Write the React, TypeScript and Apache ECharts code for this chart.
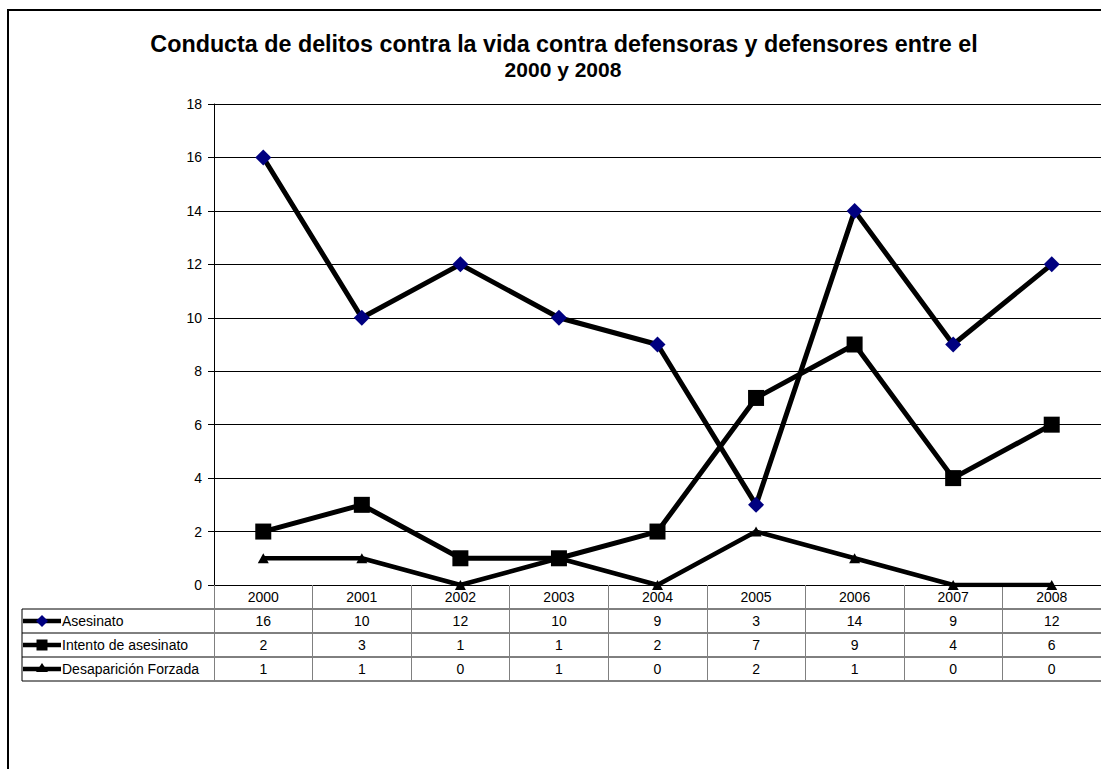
import React, { useEffect, useRef } from "react";
import * as echarts from "echarts";

const categories = ["2000", "2001", "2002", "2003", "2004", "2005", "2006", "2007", "2008"];
const asesinato = [16, 10, 12, 10, 9, 3, 14, 9, 12];
const intento = [2, 3, 1, 1, 2, 7, 9, 4, 6];
const desaparicion = [1, 1, 0, 1, 0, 2, 1, 0, 0];
const seriesNames = ["Asesinato", "Intento de asesinato", "Desaparición Forzada"];
const titleLines = [
  "Conducta de delitos contra la vida contra defensoras y defensores entre el",
  "2000 y 2008",
];
const yMin = 0;
const yMax = 18;
const yInterval = 2;

const FONT = "'Liberation Sans', Arial, sans-serif";

export default function App() {
  const ref = useRef<HTMLDivElement>(null);
  useEffect(() => {
    if (!ref.current) return;
    const chart = echarts.init(ref.current, undefined, { renderer: "svg" });
    const gridLeft = 214;
    const gridTop = 104;
    const gridHeight = 481;
    const gridWidth = 896;
    const rowH = 24;
    const option: any = {
      animation: false,
      backgroundColor: "#fff",
      grid: { left: gridLeft, top: gridTop, width: gridWidth, height: gridHeight, containLabel: false },
      xAxis: {
        type: "category",
        data: categories,
        boundaryGap: true,
        axisLine: { show: true, lineStyle: { color: "#000", width: 1 } },
        axisTick: { show: true, length: rowH * 4, lineStyle: { color: "#808080", width: 1 } },
        axisLabel: { margin: 5, fontSize: 14, color: "#000", fontFamily: FONT },
        splitLine: { show: false },
      },
      yAxis: {
        type: "value",
        min: yMin,
        max: yMax,
        interval: yInterval,
        axisLine: { show: true, lineStyle: { color: "#000", width: 1 } },
        axisTick: { show: true, length: 6, lineStyle: { color: "#000" } },
        axisLabel: { margin: 12, fontSize: 14, color: "#000", fontFamily: FONT },
        splitLine: { show: true, lineStyle: { color: "#000", width: 1 } },
      },
      series: [
        {
          name: seriesNames[0],
          type: "line",
          data: asesinato,
          symbol: "diamond",
          symbolSize: 16,
          lineStyle: { color: "#000", width: 5 },
          itemStyle: { color: "#000080", borderWidth: 0 },
          z: 3,
        },
        {
          name: seriesNames[1],
          type: "line",
          data: intento,
          symbol: "rect",
          symbolSize: 16,
          lineStyle: { color: "#000", width: 5 },
          itemStyle: { color: "#000", borderWidth: 0 },
          z: 2,
        },
        {
          name: seriesNames[2],
          type: "line",
          data: desaparicion,
          symbol: "triangle",
          symbolSize: [11, 10],
          lineStyle: { color: "#000", width: 4.5 },
          itemStyle: { color: "#000", borderWidth: 0 },
          z: 2,
        },
      ],
    };
    chart.setOption(option);

    const axisY = gridTop + gridHeight;
    const tableRight = gridLeft + gridWidth;
    const tableLeft = 22;
    const graphics: any[] = [];
    graphics.push({
      type: "rect",
      shape: { x: 8, y: 10, width: 1102, height: 780 },
      style: { fill: "none", stroke: "#000", lineWidth: 2 },
      z: 100,
    });
    graphics.push({
      type: "text",
      x: 564,
      y: 44,
      style: { text: titleLines[0], font: `bold 23.3px ${FONT}`, fill: "#000", textAlign: "center", textVerticalAlign: "middle" },
    });
    graphics.push({
      type: "text",
      x: 563,
      y: 69,
      style: { text: titleLines[1], font: `bold 21px ${FONT}`, fill: "#000", textAlign: "center", textVerticalAlign: "middle" },
    });
    for (let r = 1; r <= 4; r++) {
      const y = axisY + r * rowH;
      graphics.push({
        type: "line",
        shape: { x1: tableLeft, y1: y, x2: tableRight, y2: y },
        style: { stroke: "#000", lineWidth: 1 },
      });
    }
    graphics.push({
      type: "line",
      shape: { x1: tableLeft, y1: axisY + rowH, x2: tableLeft, y2: axisY + rowH * 4 },
      style: { stroke: "#000", lineWidth: 1 },
    });
    const rows = [asesinato, intento, desaparicion];
    rows.forEach((vals, ri) => {
      const cy = axisY + rowH * (ri + 1) + rowH / 2;
      vals.forEach((v, i) => {
        const px = chart.convertToPixel({ xAxisIndex: 0 }, i) as number;
        graphics.push({
          type: "text",
          x: px,
          y: cy,
          style: { text: String(v), font: `14px ${FONT}`, fill: "#000", textAlign: "center", textVerticalAlign: "middle" },
        });
      });
      graphics.push({
        type: "line",
        shape: { x1: 23, y1: cy, x2: 61, y2: cy },
        style: { stroke: "#000", lineWidth: 4.5 },
      });
      const mx = 42;
      if (ri === 0) {
        graphics.push({
          type: "polygon",
          shape: { points: [[mx, cy - 6], [mx + 6, cy], [mx, cy + 6], [mx - 6, cy]] },
          style: { fill: "#000080" },
        });
      } else if (ri === 1) {
        graphics.push({
          type: "rect",
          shape: { x: mx - 5.5, y: cy - 5.5, width: 11, height: 11 },
          style: { fill: "#000" },
        });
      } else {
        graphics.push({
          type: "polygon",
          shape: { points: [[mx, cy - 6], [mx + 6, cy + 3], [mx - 6, cy + 3]] },
          style: { fill: "#000" },
        });
      }
      graphics.push({
        type: "text",
        x: 62,
        y: cy,
        style: { text: seriesNames[ri], font: `14px ${FONT}`, fill: "#000", textAlign: "left", textVerticalAlign: "middle" },
      });
    });
    chart.setOption({ graphic: graphics });
    return () => chart.dispose();
  }, []);
  return (
    <div
      ref={ref}
      style={{ position: "fixed", left: 0, top: 0, width: 1101, height: 769, background: "#fff" }}
    />
  );
}
